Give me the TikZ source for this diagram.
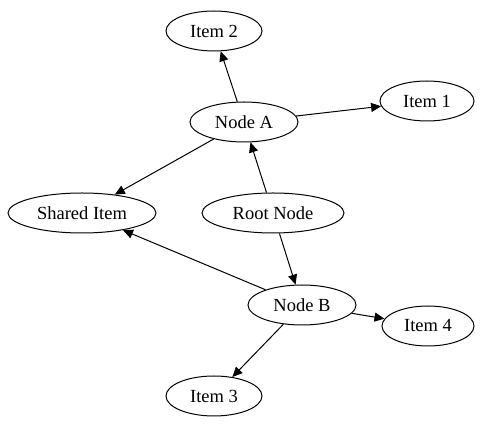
\documentclass[tikz,border=0pt]{standalone}
\usepackage{fontspec}
\setmainfont{Liberation Serif}
\usetikzlibrary{shapes.geometric,arrows.meta}
\begin{document}
\begin{tikzpicture}[x=1pt,y=-1pt,line width=1pt,
  nd/.style={draw,ellipse,inner sep=0pt,minimum height=40pt,font=\fontsize{18.5}{20}\selectfont},
  ar/.style={draw,-{Triangle[length=10pt,width=9pt]}}]
\useasboundingbox (0,0) rectangle (483,427);
\node[nd,minimum width=96pt] (i2) at (214,31) {Item 2};
\node[nd,minimum width=108pt] (a) at (244,122) {Node A};
\node[nd,minimum width=94pt] (i1) at (427,101) {Item 1};
\node[nd,minimum width=148pt] (s) at (82,213) {Shared Item};
\node[nd,minimum width=142pt] (r) at (273,213) {Root Node};
\node[nd,minimum width=108pt] (b) at (302,305) {Node B};
\node[nd,minimum width=92pt] (i4) at (428,326) {Item 4};
\node[nd,minimum width=96pt] (i3) at (214,396) {Item 3};
\draw[ar] (a) -- (i2);
\draw[ar] (a) -- (i1);
\draw[ar] (a) -- (s);
\draw[ar] (r) -- (a);
\draw[ar] (r) -- (b);
\draw[ar] (b) -- (s);
\draw[ar] (b) -- (i4);
\draw[ar] (b) -- (i3);
\end{tikzpicture}
\end{document}
